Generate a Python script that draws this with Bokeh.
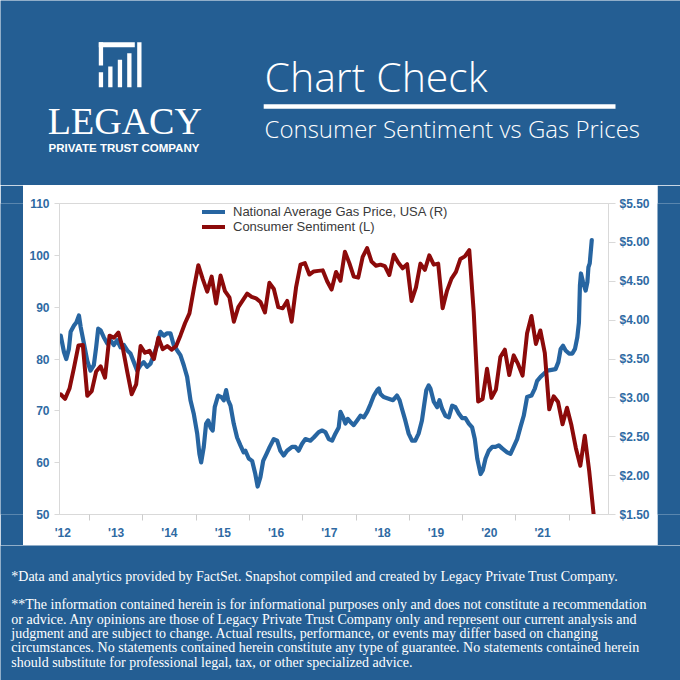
import pandas as pd
from bokeh.plotting import figure
from bokeh.models import (Range1d, LinearAxis, FixedTicker, SingleIntervalTicker,
                          NumeralTickFormatter, CustomJSTickFormatter, Legend, LegendItem)
from bokeh.layouts import column, row
from bokeh.core.properties import value
from bokeh.embed import file_html
from bokeh.resources import INLINE

# ---------------- data ----------------
# University of Michigan Consumer Sentiment, monthly from June 2012 (left axis)
sent_start = "2012-06"
sentiment = [
    73.2, 72.3, 74.3, 78.3, 82.6, 82.7, 72.9,
    73.8, 77.6, 78.6, 76.4, 84.5, 84.1, 85.1, 82.1, 77.5, 73.2, 75.1, 82.5,
    81.2, 81.6, 80.0, 84.1, 81.9, 82.5, 81.8, 82.5, 84.6, 86.9, 88.8, 93.6,
    98.1, 95.4, 93.0, 95.9, 90.7, 96.1, 93.1, 91.9, 87.2, 90.0, 91.3, 92.6,
    92.0, 91.7, 91.0, 89.0, 94.7, 93.5, 90.0, 89.8, 91.2, 87.2, 93.8, 98.2,
    98.5, 96.3, 96.9, 97.0, 97.1, 95.0, 93.4, 96.8, 95.1, 100.7, 98.5, 95.9,
    95.7, 99.7, 101.4, 98.8, 98.0, 98.2, 97.9, 96.2, 100.1, 98.6, 97.5, 98.3,
    91.2, 93.8, 98.4, 97.2, 100.0, 98.2, 98.4, 89.8, 93.2, 95.5, 96.8, 99.3,
    99.8, 101.0, 89.1, 71.8, 72.3, 78.1, 72.5, 74.1, 80.4, 81.8, 76.9, 80.7,
    79.0, 76.8, 84.9, 88.3, 82.9, 85.5, 81.2, 70.3, 72.8, 71.7, 67.4, 70.6,
    67.2, 62.8, 59.4, 65.2, 58.4, 50.0,
]

# National average gas price, USD per gallon (right axis)
gas_dates = [
    "2012-06-17", "2012-07-09", "2012-07-25", "2012-08-12", "2012-08-24", "2012-09-16",
    "2012-10-02", "2012-10-20", "2012-11-01", "2012-11-23", "2012-12-16", "2013-01-07",
    "2013-01-30", "2013-02-15", "2013-03-01", "2013-03-17", "2013-04-08", "2013-05-02",
    "2013-05-24", "2013-06-16", "2013-07-09", "2013-08-01", "2013-08-24", "2013-09-16",
    "2013-10-08", "2013-10-31", "2013-11-23", "2013-12-16", "2014-01-07", "2014-01-30",
    "2014-02-22", "2014-03-16", "2014-04-09", "2014-05-01", "2014-05-24", "2014-06-16",
    "2014-07-09", "2014-07-31", "2014-08-24", "2014-09-15", "2014-10-08", "2014-10-31",
    "2014-11-23", "2014-12-15", "2015-01-08", "2015-01-23", "2015-02-04", "2015-02-22",
    "2015-03-10", "2015-03-24", "2015-04-09", "2015-04-24", "2015-05-08", "2015-05-31",
    "2015-06-23", "2015-07-09", "2015-07-25", "2015-08-08", "2015-08-24", "2015-09-15",
    "2015-10-08", "2015-10-31", "2015-11-22", "2015-12-04", "2015-12-27", "2016-01-19",
    "2016-02-10", "2016-02-26", "2016-03-16", "2016-04-04", "2016-04-27", "2016-05-19",
    "2016-06-16", "2016-07-09", "2016-07-31", "2016-08-23", "2016-09-15", "2016-10-19",
    "2016-11-11", "2016-12-03", "2016-12-27", "2017-01-19", "2017-02-22", "2017-03-17",
    "2017-04-20", "2017-05-13", "2017-06-05", "2017-06-28", "2017-07-21", "2017-08-12",
    "2017-09-04", "2017-09-16", "2017-10-04", "2017-10-20", "2017-11-05", "2017-11-23",
    "2017-12-16", "2018-01-08", "2018-01-31", "2018-02-23", "2018-03-18", "2018-04-10",
    "2018-05-03", "2018-05-26", "2018-06-06", "2018-06-17", "2018-07-09", "2018-08-12",
    "2018-09-11", "2018-10-08", "2018-10-26", "2018-11-11", "2018-12-04", "2018-12-27",
    "2019-01-19", "2019-02-10", "2019-03-05", "2019-03-28", "2019-04-13", "2019-04-27",
    "2019-05-13", "2019-05-25", "2019-06-17", "2019-07-10", "2019-07-26", "2019-08-13",
    "2019-09-05", "2019-09-28", "2019-10-21", "2019-11-12", "2019-12-05", "2019-12-28",
    "2020-01-20", "2020-02-12", "2020-03-06", "2020-03-24", "2020-04-10", "2020-05-03",
    "2020-05-18", "2020-06-06", "2020-06-28", "2020-07-22", "2020-08-13", "2020-09-05",
    "2020-09-28", "2020-11-01", "2020-11-24", "2020-12-16", "2021-01-09", "2021-01-31",
    "2021-02-23", "2021-03-18", "2021-04-17", "2021-05-10", "2021-05-26", "2021-06-18",
    "2021-07-11", "2021-08-03", "2021-09-02", "2021-09-29", "2021-10-18", "2021-11-03",
    "2021-11-19", "2021-12-07", "2021-12-30", "2022-01-22", "2022-02-09", "2022-02-25",
    "2022-03-08", "2022-03-15", "2022-03-22", "2022-04-05", "2022-04-23", "2022-05-05",
    "2022-05-12", "2022-05-21", "2022-05-28", "2022-06-04",
]
gas_price = [
    3.80, 3.59, 3.50, 3.63, 3.85, 3.93, 3.97, 4.06, 3.91, 3.70, 3.48, 3.35,
    3.42, 3.65, 3.89, 3.87, 3.78, 3.70, 3.74, 3.68, 3.74, 3.65, 3.68, 3.61,
    3.57, 3.46, 3.35, 3.42, 3.46, 3.40, 3.44, 3.55, 3.68, 3.85, 3.80, 3.83,
    3.83, 3.68, 3.61, 3.55, 3.42, 3.27, 2.97, 2.80, 2.54, 2.28, 2.17, 2.37,
    2.67, 2.71, 2.62, 2.58, 2.88, 3.03, 3.01, 2.97, 3.10, 2.97, 2.90, 2.67,
    2.49, 2.39, 2.30, 2.32, 2.22, 2.19, 2.02, 1.86, 1.98, 2.19, 2.28, 2.37,
    2.47, 2.45, 2.32, 2.26, 2.32, 2.37, 2.37, 2.32, 2.41, 2.47, 2.45, 2.49,
    2.56, 2.58, 2.56, 2.47, 2.45, 2.54, 2.62, 2.82, 2.75, 2.67, 2.73, 2.69,
    2.65, 2.71, 2.77, 2.75, 2.82, 2.92, 3.03, 3.10, 3.12, 3.05, 3.01, 2.99,
    2.97, 3.03, 2.97, 2.86, 2.71, 2.54, 2.45, 2.45, 2.54, 2.71, 2.92, 3.10,
    3.16, 3.12, 2.95, 2.88, 2.97, 2.86, 2.77, 2.75, 2.90, 2.88, 2.80, 2.74,
    2.74, 2.67, 2.62, 2.47, 2.22, 2.02, 2.07, 2.22, 2.32, 2.37, 2.37, 2.39,
    2.35, 2.30, 2.28, 2.37, 2.47, 2.62, 2.77, 3.01, 3.03, 3.12, 3.22, 3.27,
    3.31, 3.35, 3.36, 3.37, 3.46, 3.63, 3.67, 3.61, 3.57, 3.57, 3.63, 3.78,
    3.97, 4.45, 4.60, 4.49, 4.38, 4.49, 4.68, 4.73, 4.88, 5.03,
]

left_ticks = [50, 60, 70, 80, 90, 100, 110]
year_label_positions = [2012.5 + i for i in range(10)]
year_boundaries = [2013 + i for i in range(10)]

gas_label = "National Average Gas Price, USA (R)"
sent_label = "Consumer Sentiment (L)"
title_text = "Chart Check"
subtitle_text = "Consumer Sentiment vs Gas Prices"
brand_text = "LEGACY"
brand_sub_text = "PRIVATE TRUST COMPANY"
footer_lines = [
    "*Data and analytics provided by FactSet. Snapshot compiled and created by Legacy Private Trust Company.",
    "**The information contained herein is for informational purposes only and does not constitute a recommendation",
    "or advice. Any opinions are those of Legacy Private Trust Company only and represent our current analysis and",
    "judgment and are subject to change. Actual results, performance, or events may differ based on changing",
    "circumstances. No statements contained herein constitute any type of guarantee. No statements contained herein",
    "should substitute for professional legal, tax, or other specialized advice.",
]

# ---------------- styling ----------------
BG = "#245e93"
BLUE = "#2765a1"
RED = "#8c0a0a"
TICK_BLUE = "#2f6aa3"
GREY = "#d9d9d9"
LIGHT_FONT = "'Open Sans Light', 'Open Sans'"

# fractional-year positions
months = pd.period_range(sent_start, periods=len(sentiment), freq="M")
sent_x = [m.year + (m.month - 0.5) / 12 for m in months]
gd = pd.to_datetime(gas_dates)
gas_x = [d.year + (d.dayofyear - 0.5) / (366 if d.is_leap_year else 365) for d in gd]


def panel(w, h):
    f = figure(width=w, height=h, x_range=Range1d(0, w), y_range=Range1d(h, 0),
               output_backend="svg", toolbar_location=None, min_border=0,
               x_axis_type=None, y_axis_type=None,
               background_fill_color=BG, border_fill_color=BG, outline_line_color=None)
    f.grid.visible = False
    return f


# ---------------- header ----------------
header = panel(680, 185)
logo_left = [98.3, 98.3, 98.3, 107.7, 117.3, 126.7, 136.7]
logo_right = [134.3, 102.6, 102.6, 112.0, 121.6, 131.0, 141.0]
logo_top = [41.7, 41.7, 71.7, 66.0, 59.3, 52.7, 41.7]
logo_bottom = [46.7, 65.0, 86.7, 86.7, 86.7, 86.7, 86.7]
header.quad(left=logo_left, right=logo_right, top=logo_top, bottom=logo_bottom,
            fill_color="white", line_color=None)
header.text(x=[124.3], y=[120], text=[brand_text], text_font=value("Liberation Serif"),
            text_font_size="38px", text_color="white", text_align="center",
            text_baseline="middle")
header.text(x=[123.5], y=[147.8], text=[brand_sub_text], text_font=value("Liberation Sans"),
            text_font_size="11.5px", text_font_style="bold", text_color="white",
            text_align="center", text_baseline="middle")
header.text(x=[264], y=[75], text=[title_text], text_font=value(LIGHT_FONT),
            text_font_size="41px", text_color="white", text_align="left",
            text_baseline="middle")
header.quad(left=[263.2], right=[615], top=[103.8], bottom=[108.3], fill_color="white", line_color=None)
header.text(x=[264], y=[128], text=[subtitle_text], text_font=value(LIGHT_FONT),
            text_font_size="24px", text_color="white", text_align="left",
            text_baseline="middle")

# ---------------- chart ----------------
p = figure(width=634, height=360, x_range=Range1d(2012.437, 2022.737), y_range=Range1d(50, 110),
           output_backend="svg", toolbar_location=None,
           min_border_left=36, min_border_right=49, min_border_top=18, min_border_bottom=31,
           background_fill_color="white", border_fill_color="white", outline_line_color=GREY)
p.grid.visible = False
p.extra_y_ranges = {"gas": Range1d(1.5, 5.5)}

blue_r = p.line(gas_x, gas_price, y_range_name="gas", line_color=BLUE, line_width=4.2,
                line_join="round", line_cap="round")
red_r = p.line(sent_x, sentiment, line_color=RED, line_width=4, line_join="round", line_cap="round")

right_axis = LinearAxis(y_range_name="gas", ticker=SingleIntervalTicker(interval=0.5),
                        formatter=NumeralTickFormatter(format="$0.00"))
p.add_layout(right_axis, "right")

for ax in [p.xaxis[0], p.yaxis[0], right_axis]:
    ax.axis_line_color = GREY
    ax.major_tick_line_color = GREY
    ax.minor_tick_line_color = None
    ax.major_tick_in = 0
    ax.major_label_text_font = "Liberation Sans"
    ax.major_label_text_font_style = "bold"
    ax.major_label_text_font_size = "12px"
    ax.major_label_text_color = TICK_BLUE

p.yaxis[0].ticker = FixedTicker(ticks=left_ticks)
p.yaxis[0].major_tick_out = 5
p.yaxis[0].major_label_standoff = 5
right_axis.major_tick_out = 7
right_axis.major_label_standoff = 4

xa = p.xaxis[0]
xa.ticker = FixedTicker(ticks=year_label_positions, minor_ticks=year_boundaries)
xa.formatter = CustomJSTickFormatter(code="return \"'\" + String(Math.floor(tick)).slice(2);")
xa.major_tick_line_color = None
xa.major_tick_out = 7
xa.major_label_standoff = 4
xa.minor_tick_line_color = "#cccccc"
xa.minor_tick_in = 0
xa.minor_tick_out = 6

legend = Legend(items=[LegendItem(label=gas_label, renderers=[blue_r]),
                       LegendItem(label=sent_label, renderers=[red_r])],
                location=(143, 280), orientation="vertical",
                margin=0, padding=0, spacing=0,
                glyph_width=23, glyph_height=15, label_height=15, label_standoff=8,
                label_text_font="Liberation Sans", label_text_font_size="13px",
                label_text_color="#3a3a3a",
                background_fill_alpha=0, border_line_color=None)
p.add_layout(legend)

pad_left = panel(23, 360)
pad_right = panel(23, 360)

# ---------------- footer ----------------
footer = panel(680, 135)
footer_y = [31, 59, 73.5, 88, 102.3, 116.5]
footer.text(x=[10.8] * len(footer_lines), y=footer_y, text=footer_lines,
            text_font=value("Liberation Serif"), text_font_size="14px",
            text_color="white", text_align="left", text_baseline="middle")

layout = column(header, row(pad_left, p, pad_right), footer)

open("out.html", "w").write(file_html(layout, INLINE))
